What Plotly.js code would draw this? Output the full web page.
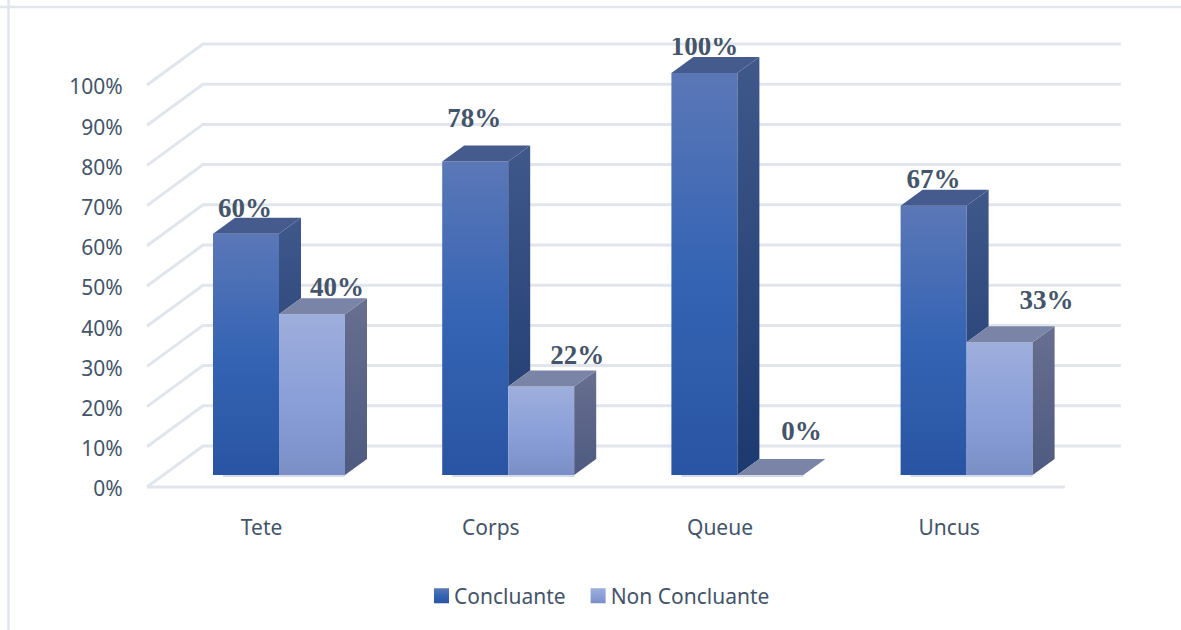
<!DOCTYPE html>
<html>
<head>
<meta charset="utf-8">
<script src="https://cdn.plot.ly/plotly-3.0.1.min.js"></script>
<style>html,body{margin:0;padding:0;background:#fff}#chart{width:1181px;height:630px}</style>
</head>
<body>
<div id="chart"></div>
<script>
// Series and categories
const categories = ['Tete', 'Corps', 'Queue', 'Uncus'];
const concluante = [60, 78, 100, 67];
const nonConcluante = [40, 22, 0, 33];
const percentTicks = [0, 10, 20, 30, 40, 50, 60, 70, 80, 90, 100];

// Oblique projection of the 3-D scene, in pixels
const catPx = 229.2, pctPx = 4.02;
const wallDx = 56, wallDy = 41;      // floor depth
const liftDx = 66, liftDy = 12;      // bars stand this far into the floor
const barPx = 66;
const barDepthDx = 22, barDepthDy = 16;
const px = v => v / catPx, py = v => v / pctPx;

// Hand placement of the value labels, px from the top centre of each bar front
const conNudge = [[-1, 24], [-1, 41], [0, 25], [0, 24]];
const nonNudge = [[25, 25], [36, 29], [31, 42], [47, 40]];

const ink = '#44546a', wallColor = '#e1e5ec';
const conGrad = [['0%', '#5b77b7'], ['50%', '#3564b4'], ['100%', '#2954a3']];
const nonGrad = [['0%', '#9eaedc'], ['55%', '#8a9fd8'], ['100%', '#7a8fc5']];

const base = py(liftDy);
const left = (i, s) => i + px(liftDx + s * barPx);

function barTrace(name, values, s) {
  return {
    type: 'bar', name: name, x: categories.map((c, i) => i), y: values, base: base,
    width: px(barPx), offset: px(liftDx + s * barPx), hoverinfo: 'skip',
    marker: {color: s ? '#8a9fd8' : '#3564b4', line: {width: 0}}
  };
}

function labelTrace(values, s, nudge) {
  return {
    type: 'scatter', mode: 'text', showlegend: false, hoverinfo: 'skip',
    x: values.map((v, i) => left(i, s) + px(barPx / 2 + nudge[i][0])),
    y: values.map((v, i) => base + v + py(nudge[i][1])),
    text: values.map(v => v + '%'), textposition: 'middle center',
    textfont: {family: '"Liberation Serif", serif', size: 27, color: ink, weight: 'bold'}
  };
}

function poly(xs, ys, extra) {
  return Object.assign({
    type: 'scatter', mode: 'lines', x: xs, y: ys, fill: 'toself', line: {width: 0},
    showlegend: false, hoverinfo: 'skip'
  }, extra);
}

function topFace(i, s, v, color) {
  const l = left(i, s), r = l + px(barPx), t = base + v, dx = px(barDepthDx), dy = py(barDepthDy);
  return poly([l, l + dx, r + dx, r, l], [t, t + dy, t + dy, t, t], {fillcolor: color});
}

function sideFace(i, s, v, low, cTop, cBottom) {
  const r = left(i, s) + px(barPx), t = base + v, b = base + low, dx = px(barDepthDx), dy = py(barDepthDy);
  return poly([r, r + dx, r + dx, r, r], [t, t + dy, b + dy, b, t], {
    fillgradient: {type: 'vertical', start: base, stop: t + dy, colorscale: [[0, cBottom], [1, cTop]]}
  });
}

const traces = [
  barTrace('Concluante', concluante, 0),
  barTrace('Non Concluante', nonConcluante, 1),
  labelTrace(concluante, 0, conNudge),
  labelTrace(nonConcluante, 1, nonNudge)
];
categories.forEach((c, i) => {
  traces.push(sideFace(i, 0, concluante[i], nonConcluante[i], '#40588a', '#1c3a70'));
  traces.push(topFace(i, 0, concluante[i], '#465b8d'));
  traces.push(sideFace(i, 1, nonConcluante[i], 0, '#686f90', '#4e5a80'));
  traces.push(topFace(i, 1, nonConcluante[i], '#7a84a6'));
});

// Walls and floor: each gridline runs up the side wall and along the back wall
const wallLine = {color: wallColor, width: 3};
const shapes = [];
const nCat = categories.length;
percentTicks.forEach(t => {
  const bx = px(wallDx), by = t + py(wallDy);
  shapes.push({type: 'path', layer: 'below', xref: 'x', yref: 'y', line: wallLine,
    path: `M0,${t} L${bx},${by} L${nCat + bx + px(1)},${by}`});
});
shapes.push({type: 'line', layer: 'below', xref: 'x', yref: 'y', x0: 0, x1: nCat + px(1), y0: 0, y1: 0, line: wallLine});
// Pale contact strip under each bar pair
categories.forEach((c, i) => {
  shapes.push({type: 'line', layer: 'below', xref: 'x', yref: 'y',
    x0: left(i, 0) + px(10), x1: left(i, 2), y0: base - py(1), y1: base - py(1),
    line: {color: '#d3dbe9', width: 2}});
});
// Chart area frame: top and left edges
shapes.push({type: 'line', xref: 'paper', yref: 'paper', layer: 'below', x0: -1, x1: 2, y0: 1 + 31 / 457, y1: 1 + 31 / 457, line: {color: wallColor, width: 2.5}});
shapes.push({type: 'line', xref: 'paper', yref: 'paper', layer: 'below', x0: -131.5 / 991, x1: -131.5 / 991, y0: -1, y1: 2, line: {color: wallColor, width: 2.5}});

const M = {l: 140, r: 50, t: 38, b: 135};
const plotW = 1181 - M.l - M.r, plotH = 630 - M.t - M.b;

const layout = {
  width: 1181, height: 630, autosize: false,
  margin: M, paper_bgcolor: '#fff', plot_bgcolor: 'rgba(0,0,0,0)',
  barmode: 'overlay', showlegend: true, shapes: shapes,
  font: {family: '"Noto Sans", sans-serif', size: 21, color: ink},
  xaxis: {
    range: [px(-7), px(plotW - 7)], tickmode: 'array',
    tickvals: categories.map((c, i) => i + 0.5), ticktext: categories,
    ticks: 'outside', ticklen: 14, tickcolor: 'rgba(0,0,0,0)',
    showgrid: false, zeroline: false, showline: false, fixedrange: true
  },
  yaxis: {
    range: [py(-8), py(plotH - 8)], tickmode: 'array', tickvals: percentTicks,
    ticktext: percentTicks.map(t => t + '%'),
    ticks: 'outside', ticklen: 12, tickcolor: 'rgba(0,0,0,0)', ticklabelshift: 2,
    showgrid: false, zeroline: false, showline: false, fixedrange: true
  },
  legend: {
    orientation: 'h', xanchor: 'left', yanchor: 'middle',
    x: (414 - M.l) / plotW, y: -(596 - (630 - M.b)) / plotH,
    font: {size: 21, color: ink}, bgcolor: 'rgba(0,0,0,0)'
  }
};

function addGradient(svg, id, stops) {
  const NS = 'http://www.w3.org/2000/svg';
  let defs = svg.querySelector('defs');
  const g = document.createElementNS(NS, 'linearGradient');
  g.setAttribute('id', id);
  g.setAttribute('x1', '0'); g.setAttribute('y1', '0');
  g.setAttribute('x2', '0'); g.setAttribute('y2', '1');
  stops.forEach(s => {
    const st = document.createElementNS(NS, 'stop');
    st.setAttribute('offset', s[0]);
    st.setAttribute('stop-color', s[1]);
    g.appendChild(st);
  });
  defs.appendChild(g);
}

const gd = document.getElementById('chart');
Plotly.newPlot(gd, traces, layout, {displayModeBar: false, staticPlot: true}).then(() => {
  // Vertical shading on bar fronts and on the legend keys
  const svg = gd.querySelector('svg.main-svg');
  addGradient(svg, 'gradCon', conGrad);
  addGradient(svg, 'gradNon', nonGrad);
  gd.querySelectorAll('.barlayer .trace').forEach((t, k) => {
    t.querySelectorAll('path').forEach(p => { p.style.fill = `url(#grad${k ? 'Non' : 'Con'})`; });
  });
  gd.querySelectorAll('.legend .traces').forEach((t, k) => {
    t.querySelectorAll('.legendpoints path').forEach(p => {
      p.setAttribute('d', 'M7.5,7.5H-7.5V-7.5H7.5Z');
      p.setAttribute('transform', 'translate(27.5,0)');
      p.style.fill = `url(#grad${k ? 'Non' : 'Con'})`;
    });
  });
});
</script>
</body>
</html>
